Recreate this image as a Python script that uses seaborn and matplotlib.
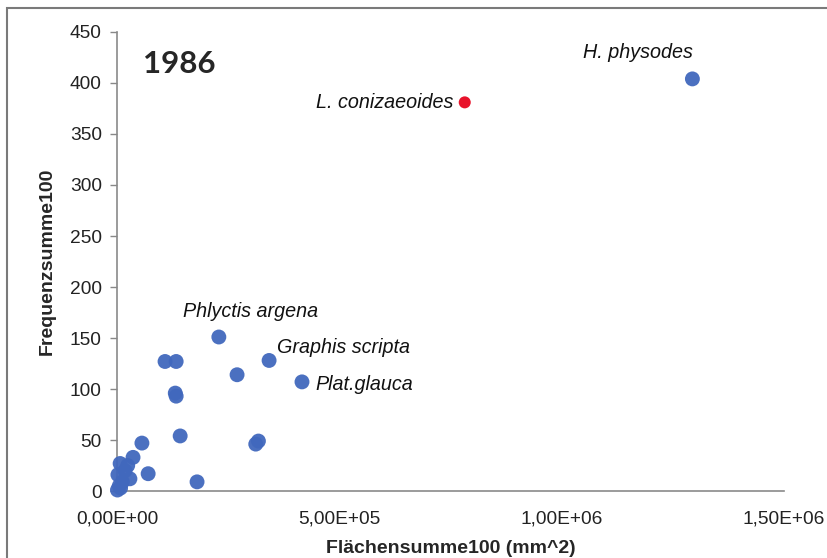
import matplotlib
matplotlib.use("Agg")
import matplotlib.pyplot as plt
import matplotlib.ticker as mticker
from matplotlib.patches import Rectangle
import pandas as pd
import seaborn as sns

# Lichen species: total area (mm^2) vs. total frequency, survey 1986
flaeche = [1.294e6, 2.29e5, 3.42e5, 4.16e5, 2.70e5, 1.08e5, 1.33e5, 1.31e5, 1.33e5,
           1.42e5, 3.12e5, 3.18e5, 1.80e5, 5.6e4, 3.6e4, 7e3, 2.4e4, 7.0e4,
           2e3, 2.9e4, 1.2e4, 1e3, 5e3, 1.8e4, 8e3]
frequenz = [404, 151, 128, 107, 114, 127, 127, 96, 93,
            54, 46, 49, 9, 47, 33, 27, 25, 17,
            16, 12, 9, 1, 5, 20, 3]

rot_x = [7.82e5]
rot_y = [381]

labels = ["H. physodes", "Phlyctis argena", "Graphis scripta", "Plat.glauca", "L. conizaeoides"]
label_x = [1.294e6, 2.29e5, 3.42e5, 4.16e5, 7.82e5]
label_y = [404, 151, 128, 107, 381]

xticks = [0, 5e5, 1e6, 1.5e6]
yticks = [0, 50, 100, 150, 200, 250, 300, 350, 400, 450]

sns.set_theme(style="white")
plt.rcParams["font.family"] = ["Liberation Sans", "DejaVu Sans"]

fig = plt.figure(figsize=(8.27, 5.58), dpi=100)
ax = fig.add_axes([0.1415, 0.12, 0.948 - 0.1415, 0.9427 - 0.12])

df = pd.DataFrame({"x": flaeche, "y": frequenz})
sns.scatterplot(data=df, x="x", y="y", ax=ax, color="#4168bd", s=115,
                edgecolor="none", alpha=0.95, zorder=3, clip_on=False)
sns.scatterplot(x=rot_x, y=rot_y, ax=ax, color="#e8132b", s=75,
                edgecolor="none", zorder=4, clip_on=False)

ax.set_xlim(0, 1.5e6)
ax.set_ylim(0, 450)
ax.set_xticks(xticks)
ax.set_yticks(yticks)
ax.xaxis.set_major_formatter(mticker.FuncFormatter(lambda v, p: f"{v:.2E}".replace(".", ",")))
ax.tick_params(axis="x", length=0, pad=14, labelsize=13.8, colors="#222222")
ax.tick_params(axis="y", length=5, width=1, color="#888888", pad=6, labelsize=13.8,
               labelcolor="#222222", left=True)

for side in ["top", "right"]:
    ax.spines[side].set_visible(False)
for side in ["left", "bottom"]:
    ax.spines[side].set_color("#8a8a8a")
    ax.spines[side].set_linewidth(1.2)
    ax.spines[side].set_zorder(2)

ax.set_xlabel("Flächensumme100 (mm^2)", fontsize=14, fontweight="bold", labelpad=9)
ax.set_ylabel("Frequenzsumme100", fontsize=14, fontweight="bold", labelpad=10)

# Species annotations (offsets in points)
offsets = {
    "H. physodes": ((0, 19), "right"),
    "Phlyctis argena": ((-26, 18), "left"),
    "Graphis scripta": ((6, 9), "left"),
    "Plat.glauca": ((10, -2), "left"),
    "L. conizaeoides": ((-8, 0), "right"),
}
for name, lx, ly in zip(labels, label_x, label_y):
    off, ha = offsets[name]
    ax.annotate(name, (lx, ly), xytext=off, textcoords="offset points",
                ha=ha, va="center", fontsize=14.2, fontstyle="italic", color="#111111")

ax.text(0.039, 0.93, "1986", transform=ax.transAxes, fontsize=22.5,
        fontweight="bold", family=["Lato", "DejaVu Sans"], va="center", ha="left")

# Chart frame
fig.patches.append(Rectangle((7 / 827, -0.05), 1.1, 1 - 8 / 558 + 0.05,
                             transform=fig.transFigure, fill=False,
                             edgecolor="#7a7a7a", linewidth=1.5))

fig.savefig("out.png", dpi=100)
